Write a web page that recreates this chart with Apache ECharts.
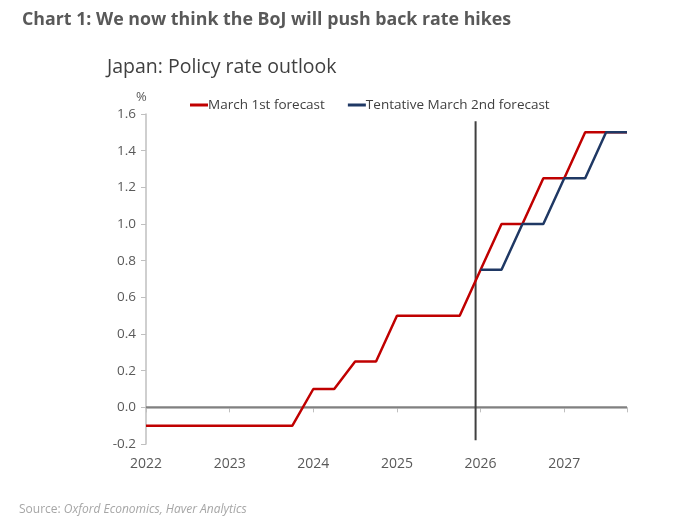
<!DOCTYPE html>
<html>
<head>
<meta charset="utf-8">
<script src="https://cdn.jsdelivr.net/npm/echarts@6/dist/echarts.min.js"></script>
<style>html,body{margin:0;padding:0;background:#fff;}#c{width:685px;height:529px;}</style>
</head>
<body>
<div id="c"></div>
<script>
var quarters = ["2022Q1","2022Q2","2022Q3","2022Q4","2023Q1","2023Q2","2023Q3","2023Q4",
  "2024Q1","2024Q2","2024Q3","2024Q4","2025Q1","2025Q2","2025Q3","2025Q4",
  "2026Q1","2026Q2","2026Q3","2026Q4","2027Q1","2027Q2","2027Q3","2027Q4"];
var march1st = [-0.1,-0.1,-0.1,-0.1,-0.1,-0.1,-0.1,-0.1,
  0.1,0.1,0.25,0.25,0.5,0.5,0.5,0.5,
  0.75,1.0,1.0,1.25,1.25,1.5,1.5,1.5];
var march2ndQuarters = ["2026Q1","2026Q2","2026Q3","2026Q4","2027Q1","2027Q2","2027Q3","2027Q4"];
var march2nd = [0.75,0.75,1.0,1.0,1.25,1.25,1.5,1.5];
var yearLabels = ["2022","2023","2024","2025","2026","2027"];
var forecastDate = 2025.94;
var forecastLineRange = [-0.18, 1.56];

function qx(s){ return parseInt(s.slice(0,4),10) + (parseInt(s.slice(5),10)-1)/4; }
function pairs(qs, vals){ return qs.map(function(q,i){ return [qx(q), vals[i]]; }); }

var RED = '#C00000', BLUE = '#1F3864';
var chart = echarts.init(document.getElementById('c'), null, {renderer:'canvas'});
chart.setOption({
  animation:false,
  backgroundColor:'#fff',
  title:[
    {text:'Chart 1: We now think the BoJ will push back rate hikes', left:17, top:6,
     textStyle:{fontFamily:'Open Sans', fontWeight:'bold', fontSize:17.8, color:'#595959'}},
    {text:'Japan: Policy rate outlook', left:102, top:52,
     textStyle:{fontFamily:'Open Sans', fontWeight:'normal', fontSize:19.5, color:'#404040'}},
    {text:'%', left:131, top:86,
     textStyle:{fontFamily:'Open Sans', fontWeight:'normal', fontSize:13, color:'#595959'}},
    {text:'{a|Source: }{b|Oxford Economics, Haver Analytics}', left:14, top:499,
     textStyle:{fontWeight:'normal', rich:{
       a:{fontFamily:'Open Sans', fontSize:12, fontWeight:'normal', color:'#a6a6a6'},
       b:{fontFamily:'Open Sans', fontSize:12, fontWeight:'normal', color:'#a6a6a6', fontStyle:'italic'}}}}
  ],
  legend:{
    left:185, top:93, itemWidth:18, itemHeight:3, itemGap:23, icon:'rect',
    textStyle:{fontFamily:'Open Sans', fontSize:13.5, color:'#404040', padding:[0,0,0,-5]},
    data:['March 1st forecast','Tentative March 2nd forecast']
  },
  grid:{left:146, right:58, top:114, bottom:85},
  xAxis:{
    type:'value', min:2022, max:2027.75, interval:1,
    axisLine:{show:true, lineStyle:{color:'#bfbfbf', width:1.5}},
    axisTick:{show:true, length:5, lineStyle:{color:'#bfbfbf'}},
    splitLine:{show:false},
    axisLabel:{fontFamily:'Open Sans', fontSize:14, color:'#595959', margin:13,
      formatter:function(v){ var i = Math.round(v)-2022; return yearLabels[i] || ''; }}
  },
  yAxis:{
    type:'value', min:-0.2, max:1.6, interval:0.2,
    axisLine:{show:true, onZero:false, lineStyle:{color:'#bfbfbf', width:1.5}},
    axisTick:{show:true, inside:false, length:5, lineStyle:{color:'#bfbfbf'}},
    splitLine:{show:false},
    axisLabel:{fontFamily:'Open Sans', fontSize:13.5, color:'#595959', margin:10,
      formatter:function(v){ return v.toFixed(1); }}
  },
  series:[
    {type:'line', name:'zero', data:[[2022,0],[2027.75,0]], symbol:'none', silent:true,
     lineStyle:{color:'#808080', width:2}, z:1},
    {type:'line', name:'forecast', data:[[forecastDate,forecastLineRange[0]],[forecastDate,forecastLineRange[1]]],
     symbol:'none', silent:true, lineStyle:{color:'#404040', width:2}, z:1},
    {type:'line', name:'March 1st forecast', data:pairs(quarters, march1st), symbol:'none',
     itemStyle:{color:RED}, lineStyle:{color:RED, width:2.5}, z:3},
    {type:'line', name:'Tentative March 2nd forecast', data:pairs(march2ndQuarters, march2nd), symbol:'none',
     itemStyle:{color:BLUE}, lineStyle:{color:BLUE, width:2.5}, z:4}
  ]
});
</script>
</body>
</html>
